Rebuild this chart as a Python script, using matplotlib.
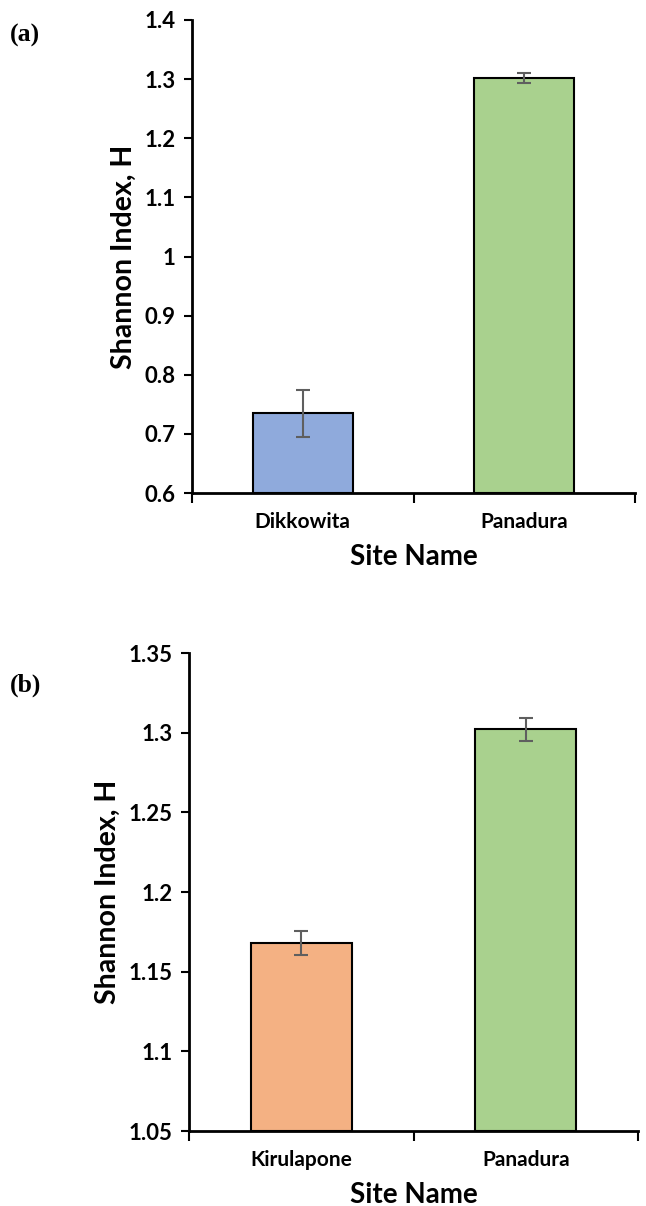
import matplotlib
matplotlib.use("Agg")
import matplotlib.pyplot as plt
from matplotlib.ticker import MultipleLocator, FuncFormatter

# Data
sites_a = ["Dikkowita", "Panadura"]
values_a = [0.735, 1.302]
errors_a = [0.040, 0.009]
colors_a = ["#8FAADC", "#A9D18E"]

sites_b = ["Kirulapone", "Panadura"]
values_b = [1.168, 1.302]
errors_b = [0.0074, 0.0075]
colors_b = ["#F4B183", "#A9D18E"]

plt.rcParams['font.family'] = ['Lato', 'DejaVu Sans']

fig = plt.figure(figsize=(6.46, 12.06), dpi=100)

def fmt(v, pos):
    s = f"{v:.2f}".rstrip('0').rstrip('.')
    return s

def panel(rect, sites, values, errors, colors, ylim, step, letter, letter_y):
    ax = fig.add_axes(rect)
    x = [i + 0.5 for i in range(len(sites))]
    ax.bar(x, [v - ylim[0] for v in values], bottom=ylim[0], width=0.45,
           color=colors, edgecolor="black", linewidth=1.5, zorder=2)
    ax.errorbar(x, values, yerr=errors, fmt='none', ecolor="#5F5F5F",
                elinewidth=1.5, capsize=5, capthick=1.5, zorder=3)
    ax.set_xlim(0, len(sites))
    ax.set_ylim(*ylim)
    ax.yaxis.set_major_locator(MultipleLocator(step))
    ax.yaxis.set_major_formatter(FuncFormatter(fmt))
    ax.set_xticks(range(len(sites) + 1))
    ax.set_xticklabels([])
    ax.set_xticks(x, minor=True)
    ax.set_xticklabels(sites, minor=True, fontsize=15, fontweight='bold')
    ax.tick_params(axis='x', which='minor', length=0, pad=14)
    ax.tick_params(axis='x', which='major', length=7, width=1.5, direction='out')
    ax.tick_params(axis='y', length=6, width=1.5, direction='out', labelsize=16, pad=6)
    for lab in ax.get_yticklabels():
        lab.set_fontweight('bold')
    for s in ['top', 'right']:
        ax.spines[s].set_visible(False)
    for s in ['left', 'bottom']:
        ax.spines[s].set_linewidth(2)
    ax.set_xlabel("Site Name", fontsize=20, fontweight='bold', labelpad=8)
    ax.set_ylabel("Shannon Index, H", fontsize=20.5, fontweight='bold', labelpad=5.5)
    fig.text(10 / 646, 1 - letter_y / 1206, letter, fontsize=18.5, fontweight='bold',
             family=['Liberation Serif', 'DejaVu Serif'], va='center', ha='left')
    return ax

panel([192 / 646, 1 - 493 / 1206, (635 - 192) / 646, (493 - 20) / 1206],
      sites_a, values_a, errors_a, colors_a, (0.6, 1.4), 0.1, "(a)", 35)
panel([189 / 646, 1 - 1131 / 1206, (638 - 189) / 646, (1131 - 653) / 1206],
      sites_b, values_b, errors_b, colors_b, (1.05, 1.35), 0.05, "(b)", 685)

fig.savefig("out.png", dpi=100)
